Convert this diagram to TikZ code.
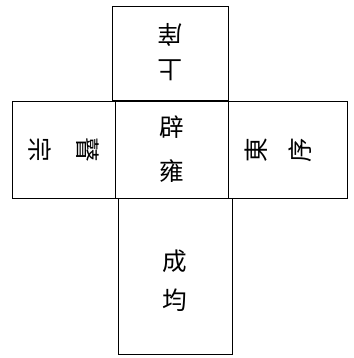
\documentclass[tikz,border=0pt]{standalone}
\usepackage{fontspec}
\newfontfamily\cjk{Noto Sans CJK TC}
\usetikzlibrary{positioning}

\begin{document}
\begin{tikzpicture}[x=0.02cm,y=-0.02cm,
  cell/.style={draw,line width=0.5pt,inner sep=0pt},
  glyph/.style={font=\cjk\fontsize{14}{#1}\selectfont,align=center,inner sep=0pt}]
  \useasboundingbox (0,0) rectangle (353,358);
  % 五學方框
  \node[cell,minimum width=2.32cm,minimum height=1.88cm] (north) at (170,53) {};
  \node[cell,minimum width=2.06cm,minimum height=1.94cm] (west) at (63.5,149.5) {};
  \node[cell,minimum width=2.26cm,minimum height=1.94cm] (centre) at (171.5,149.5) {};
  \node[cell,minimum width=2.38cm,minimum height=1.94cm] (east) at (287.5,149.5) {};
  \node[cell,minimum width=2.28cm,minimum height=3.12cm] (south) at (175,276) {};
  % 文字（字頭朝中）
  \node[glyph=20pt,rotate=180] (shangxiang) at (170,52) {上\\庠};
  \node[glyph=27pt,rotate=-90] (guzong) at (64,150) {瞽\\宗};
  \node[glyph=25pt] (biyong) at (centre) {辟\\雍};
  \node[glyph=25pt,rotate=90] (dongxu) at (278,150) {東\\序};
  \node[glyph=22pt] (chengjun) at (175,281) {成\\均};
\end{tikzpicture}
\end{document}
